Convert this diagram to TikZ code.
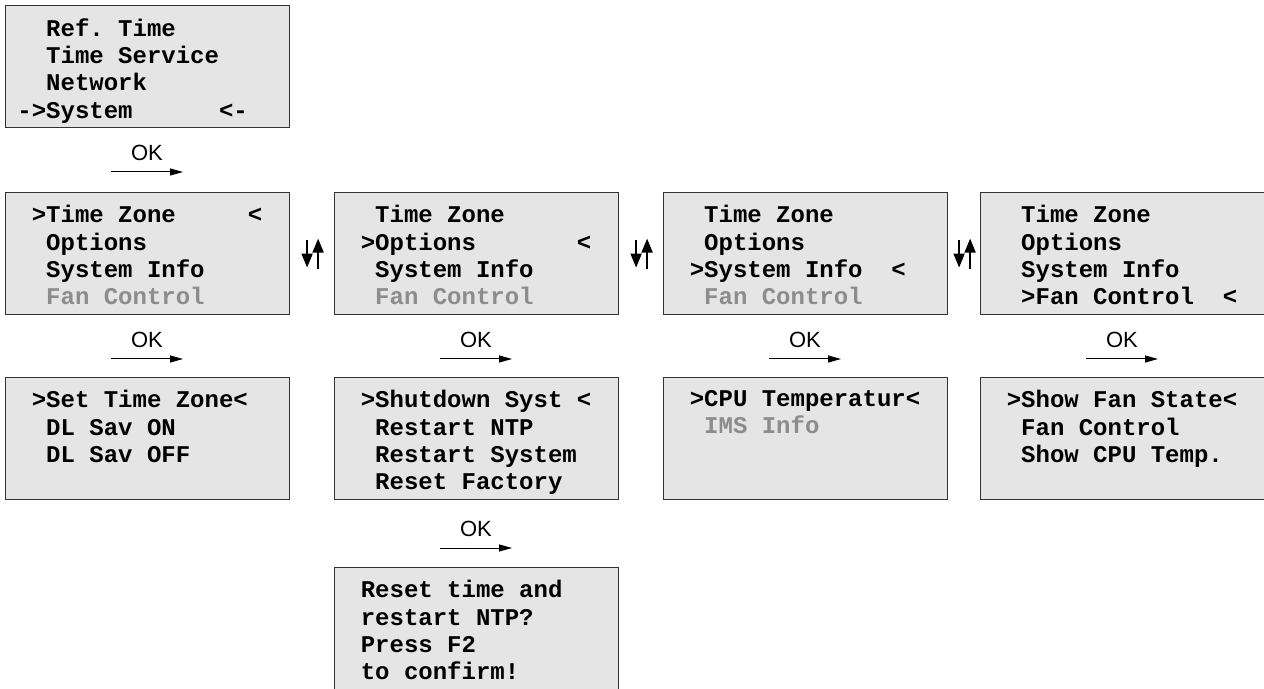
\documentclass[tikz,border=0pt]{standalone}
\usepackage{fontspec}
\setmainfont{Liberation Sans}
\setmonofont{Liberation Mono}
\usetikzlibrary{arrows.meta, calc}

% leading blanks of a display line, counted in characters
\newcommand{\lead}[1]{\hspace*{#1\fontcharwd\font`x}}
\newcommand{\off}[1]{\textcolor{black!45}{#1}}

\begin{document}
\begin{tikzpicture}[x=0.5pt, y=-0.5pt,
    lcd/.style={rectangle, draw=black!80, fill=black!10, line width=0.6pt, anchor=north west,
      minimum width=142pt, minimum height=61pt, inner sep=0pt},
    lcdtext/.style={anchor=north west, align=left, inner sep=0pt,
      font=\ttfamily\bfseries\fontsize{12}{13.65}\selectfont},
    ok/.style={font=\fontsize{11}{12}\selectfont, inner sep=0pt},
    okarrow/.style={-{Triangle[length=6.5pt, width=3.5pt]}, line width=0.5pt},
    navarrow/.style={-{Triangle[length=7pt, width=5.5pt]}, line width=0.9pt},
  ]
  \useasboundingbox (0,0) rectangle (1264,689);

  % main menu
  \node[lcd] (sys) at (5,5) {};
  \node[lcdtext] (syst) at ([shift={(12,13)}]sys.north west)
    {\lead{2}Ref. Time\\ \lead{2}Time Service\\ \lead{2}Network\\ ->System~~~~~~<-};

  % system menu
  \node[lcd] (tz) at (5,192) {};
  \node[lcdtext] (tzt) at ([shift={(12,13)}]tz.north west)
    {\lead{1}>Time Zone~~~~~<\\ \lead{2}Options\\ \lead{2}System Info\\ \lead{2}\off{Fan Control}};
  \node[lcd] (opt) at (334,192) {};
  \node[lcdtext] (optt) at ([shift={(12,13)}]opt.north west)
    {\lead{2}Time Zone\\ \lead{1}>Options~~~~~~~<\\ \lead{2}System Info\\ \lead{2}\off{Fan Control}};
  \node[lcd] (info) at (663,192) {};
  \node[lcdtext] (infot) at ([shift={(12,13)}]info.north west)
    {\lead{2}Time Zone\\ \lead{2}Options\\ \lead{1}>System Info~~<\\ \lead{2}\off{Fan Control}};
  \node[lcd] (fan) at (980,192) {};
  \node[lcdtext] (fant) at ([shift={(12,13)}]fan.north west)
    {\lead{2}Time Zone\\ \lead{2}Options\\ \lead{2}System Info\\ \lead{2}>Fan Control~~<};

  % sub menus
  \node[lcd] (settz) at (5,377) {};
  \node[lcdtext] (settzt) at ([shift={(12,13)}]settz.north west)
    {\lead{1}>Set Time Zone<\\ \lead{2}DL Sav ON\\ \lead{2}DL Sav OFF};
  \node[lcd] (shut) at (334,377) {};
  \node[lcdtext] (shutt) at ([shift={(12,13)}]shut.north west)
    {\lead{1}>Shutdown Syst <\\ \lead{2}Restart NTP\\ \lead{2}Restart System\\ \lead{2}Reset Factory};
  \node[lcd] (cpu) at (663,377) {};
  \node[lcdtext] (cput) at ([shift={(12,13)}]cpu.north west)
    {\lead{1}>CPU Temperatur<\\ \lead{2}\off{IMS Info}};
  \node[lcd] (fanst) at (980,377) {};
  \node[lcdtext] (fanstt) at ([shift={(12,13)}]fanst.north west)
    {\lead{1}>Show Fan State<\\ \lead{2}Fan Control\\ \lead{2}Show CPU Temp.};

  \node[lcd] (reset) at (334,567) {};
  \node[lcdtext] (resett) at ([shift={(12,13)}]reset.north west)
    {\lead{1}Reset time and\\ \lead{1}restart NTP?\\ \lead{1}Press F2\\ \lead{1}to confirm!};

  % OK keys
  \node[ok] (ok0) at (147,153) {OK};
  \node[ok] (ok1) at (147,340) {OK};
  \node[ok] (ok2) at (476,340) {OK};
  \node[ok] (ok3) at (805,340) {OK};
  \node[ok] (ok4) at (1122,340) {OK};
  \node[ok] (ok5) at (476,529) {OK};
  \foreach \k in {ok0,ok1,ok2,ok3,ok4,ok5}
    \draw[okarrow] ([shift={(-36,19)}]\k.center) -- ([shift={(36,19)}]\k.center);

  % up/down keys between the system menu screens
  \coordinate (g1) at ($(tz.east)!0.5!(opt.west)$);
  \coordinate (g2) at ($(opt.east)!0.5!(info.west)$);
  \coordinate (g3) at ($(info.east)!0.5!(fan.west)$);
  \foreach \g in {g1,g2,g3} {
    \draw[navarrow] ([shift={(-5,-14)}]\g) -- ([shift={(-5,14)}]\g);
    \draw[navarrow] ([shift={(6,15)}]\g) -- ([shift={(6,-15)}]\g);
  }
\end{tikzpicture}
\end{document}
